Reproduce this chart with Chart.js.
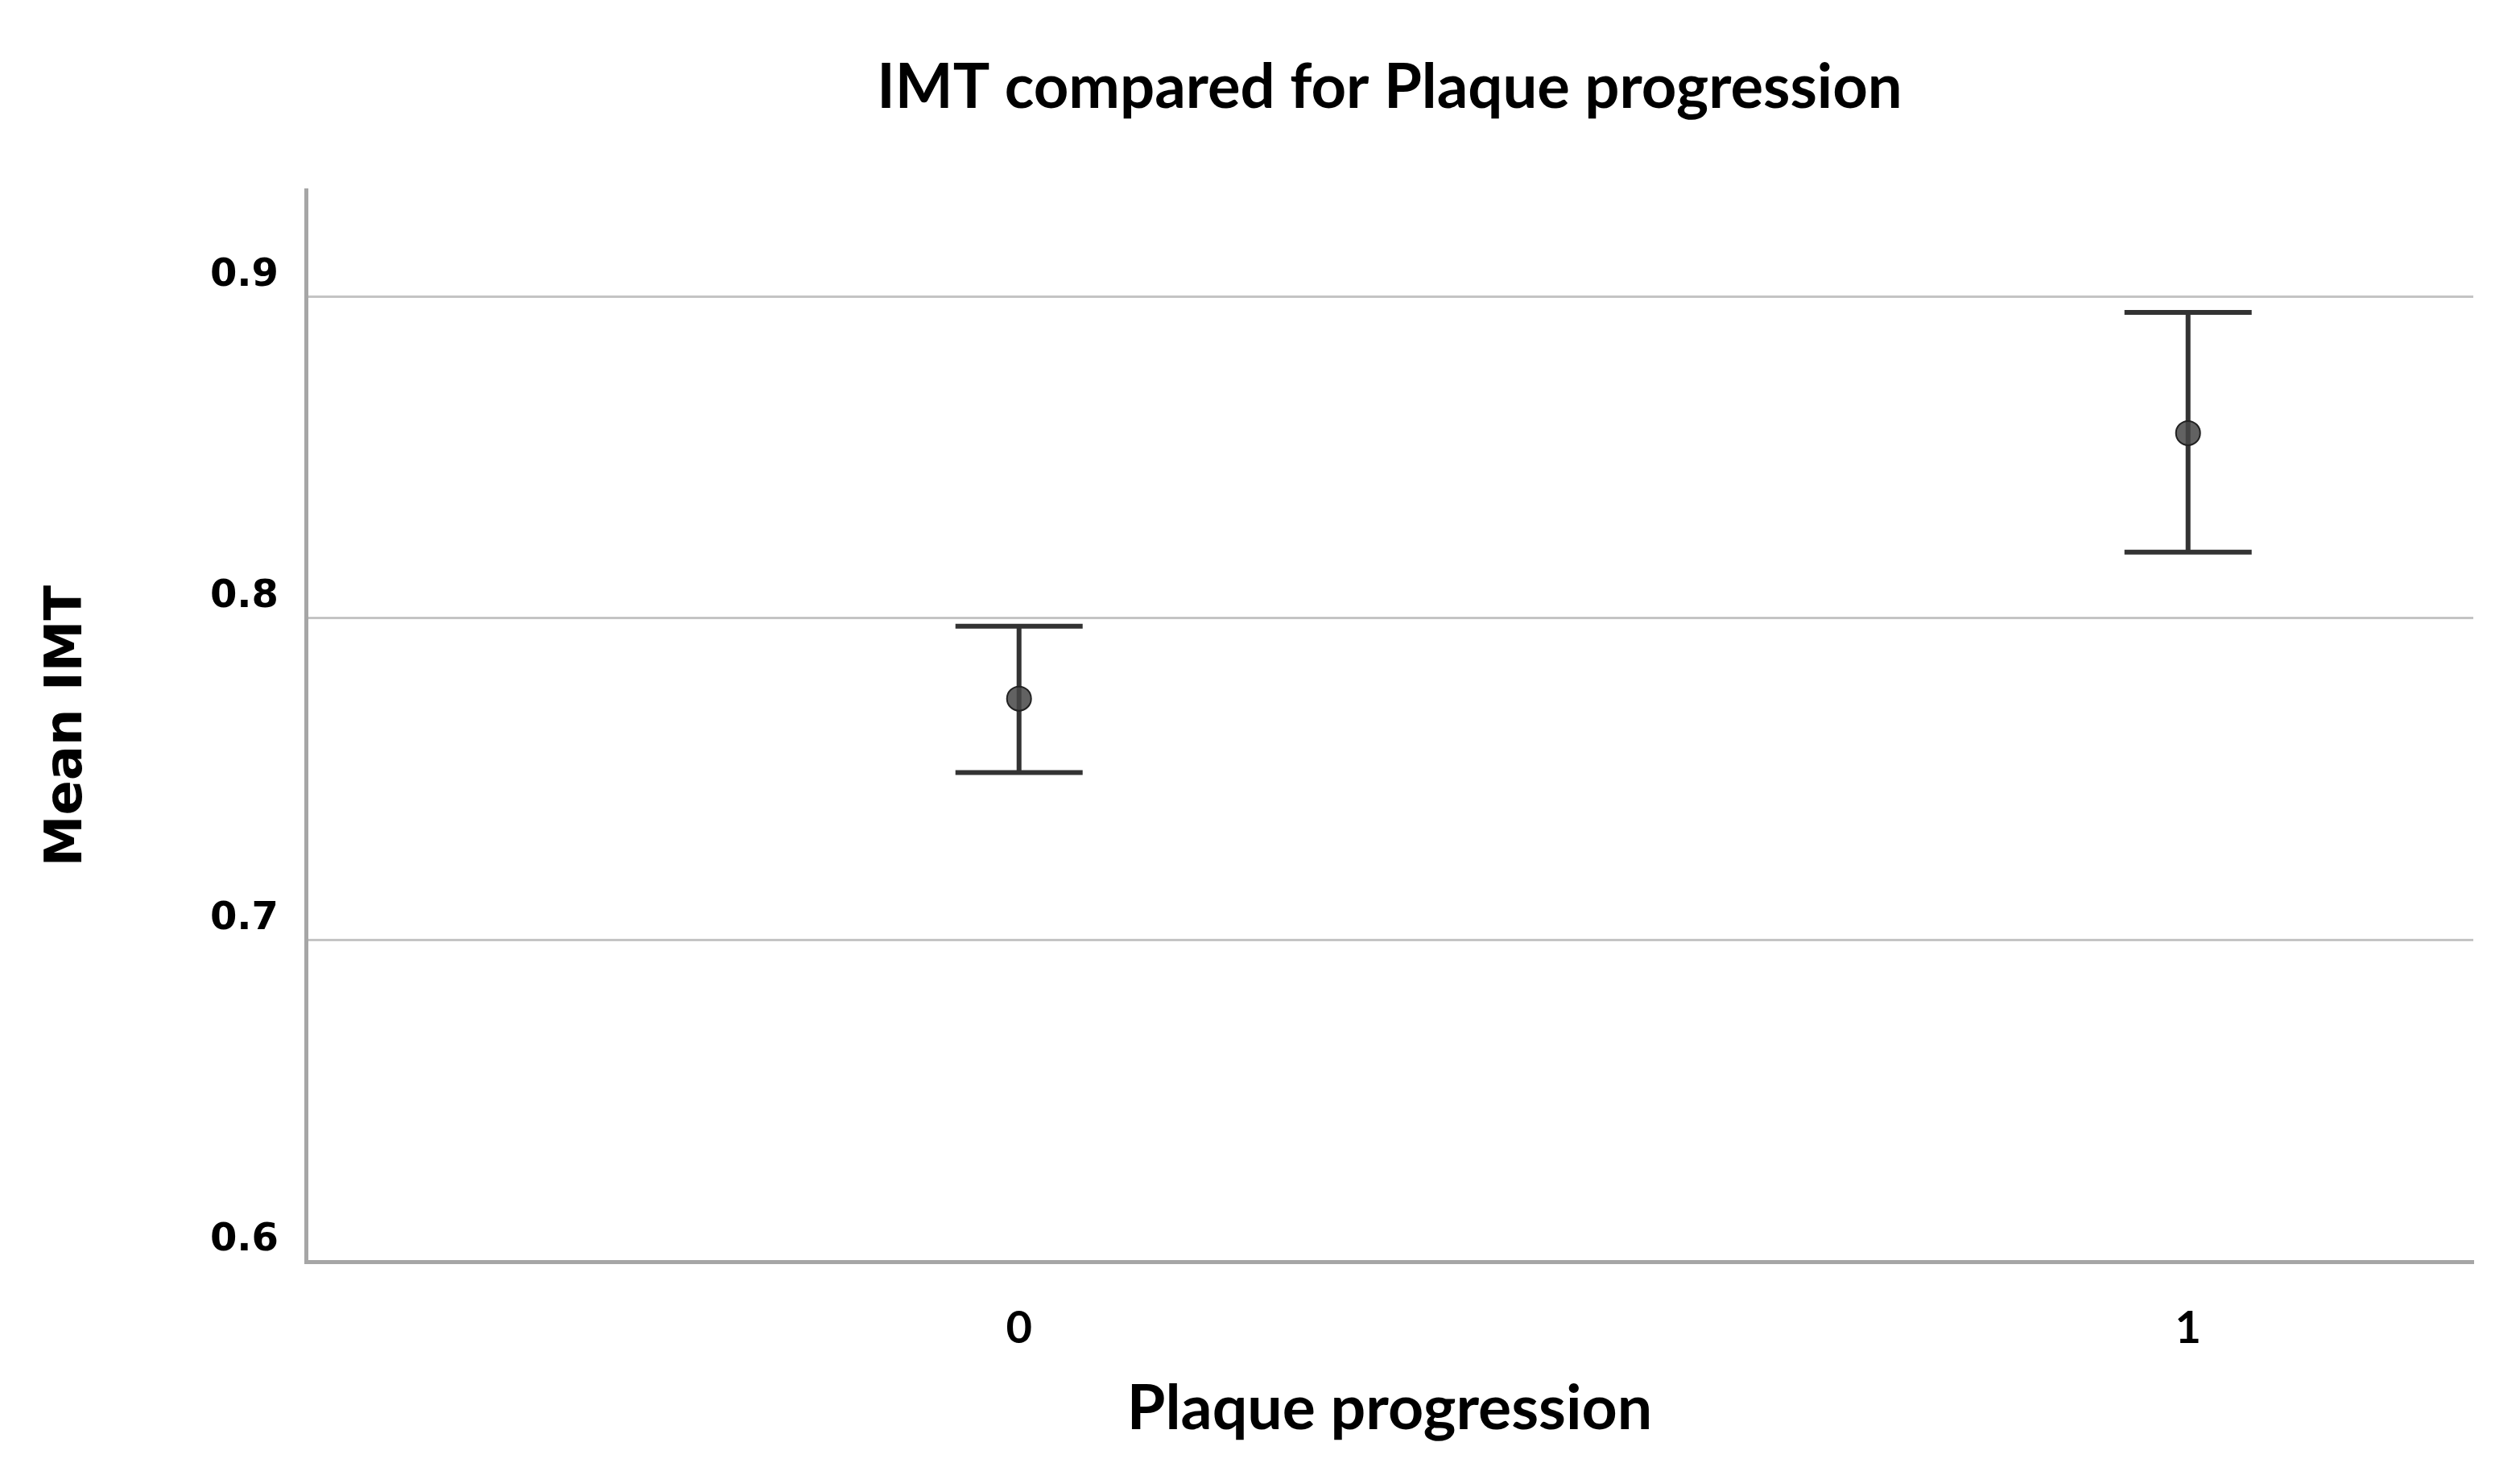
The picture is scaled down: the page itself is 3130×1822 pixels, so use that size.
<!DOCTYPE html>
<html>
<head>
<meta charset="utf-8">
<script src="https://cdn.jsdelivr.net/npm/chart.js@4"></script>
<style>
  html, body { margin: 0; padding: 0; background: #ffffff; }
  #wrap { width: 3130px; height: 1822px; }
</style>
</head>
<body>
<div id="wrap"><canvas id="c" width="3130" height="1822"></canvas></div>
<script>
// ---- data ----
const categories = ['0', '1'];          // Plaque progression groups
const groupValues = [0, 1];
const means = [0.775, 0.8575];          // Mean IMT
const lowerCI = [0.752, 0.8205];        // error bar lower end
const upperCI = [0.7975, 0.895];        // error bar upper end
const yTicks = [0.6, 0.7, 0.8, 0.9];
const xTicks = [0, 1];

const titleText = 'IMT compared for Plaque progression';
const xTitle = 'Plaque progression';
const yTitle = 'Mean IMT';

const points = groupValues.map((g, i) => ({ x: g, y: means[i] }));

const errorBarPlugin = {
  id: 'errorBars',
  beforeDatasetsDraw(chart) {
    const ctx = chart.ctx;
    const xs = chart.scales.x, ys = chart.scales.y;
    ctx.save();
    ctx.strokeStyle = '#333333';
    ctx.lineWidth = 6;
    ctx.lineCap = 'butt';
    const cap = 79;
    groupValues.forEach((g, i) => {
      const px = xs.getPixelForValue(g);
      const yl = ys.getPixelForValue(lowerCI[i]);
      const yu = ys.getPixelForValue(upperCI[i]);
      ctx.beginPath();
      ctx.moveTo(px, yl); ctx.lineTo(px, yu);
      ctx.moveTo(px - cap, yu); ctx.lineTo(px + cap, yu);
      ctx.moveTo(px - cap, yl); ctx.lineTo(px + cap, yl);
      ctx.stroke();
    });
    ctx.restore();
  }
};

new Chart(document.getElementById('c'), {
  type: 'scatter',
  data: {
    datasets: [{
      label: yTitle,
      data: points,
      pointRadius: 15,
      pointHoverRadius: 15,
      backgroundColor: 'rgba(70,70,70,0.85)',
      borderColor: '#222222',
      borderWidth: 2
    }]
  },
  options: {
    responsive: false,
    devicePixelRatio: 1,
    animation: false,
    layout: { padding: { left: 0, right: 58, top: 0, bottom: 0 } },
    plugins: {
      legend: { display: false },
      tooltip: { enabled: false },
      title: {
        display: true,
        text: titleText,
        fullSize: false,
        color: '#000000',
        font: { family: 'Lato', weight: 'bold', size: 76, lineHeight: 1.2 },
        padding: { top: 64, bottom: 81 }
      }
    },
    scales: {
      x: {
        type: 'linear',
        min: -0.61,
        max: 1.244,
        afterBuildTicks(scale) { scale.ticks = xTicks.map(v => ({ value: v })); },
        afterFit(scale) { scale.height = 1822 - 1567; },
        ticks: {
          padding: 49,
          color: '#000000',
          font: { family: 'Lato', weight: 'bold', size: 56 },
          callback: (v) => categories[groupValues.indexOf(v)] ?? ''
        },
        grid: { display: false, drawTicks: false },
        border: { display: true, color: '#a6a6a6', width: 5 },
        title: {
          display: true,
          text: xTitle,
          color: '#000000',
          font: { family: 'Lato', weight: 'bold', size: 77, lineHeight: 1.2 },
          padding: { top: 0, bottom: 26 }
        }
      },
      y: {
        type: 'linear',
        min: 0.6,
        max: 0.933,
        afterBuildTicks(scale) { scale.ticks = yTicks.map(v => ({ value: v })); },
        afterFit(scale) { scale.width = 380; },
        ticks: {
          padding: 34,
          labelOffset: -26,
          color: '#000000',
          font: { family: 'DejaVu Sans', weight: 'bold', size: 48 },
          callback: (v) => v.toFixed(1)
        },
        grid: {
          drawTicks: false,
          color: (c) => (c.tick && c.tick.value === 0.6) ? 'rgba(0,0,0,0)' : '#c4c4c4',
          lineWidth: 3
        },
        border: { display: true, color: '#a6a6a6', width: 5 },
        title: {
          display: true,
          text: yTitle,
          color: '#000000',
          font: { family: 'DejaVu Sans', weight: 'bold', size: 64, lineHeight: 1.2 },
          padding: { top: 46, bottom: 0 }
        }
      }
    }
  },
  plugins: [errorBarPlugin]
});
</script>
</body>
</html>
